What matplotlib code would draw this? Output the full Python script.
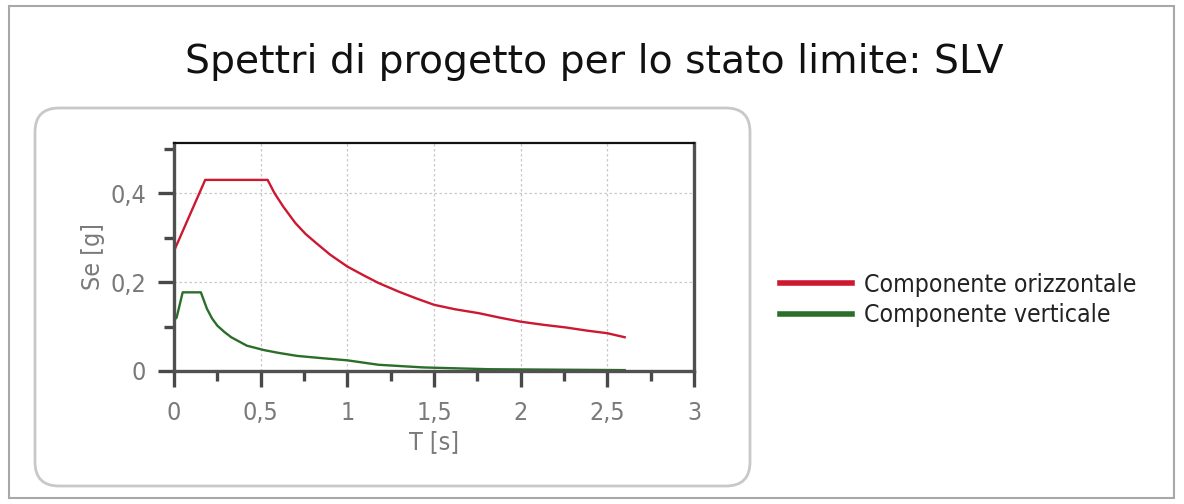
import matplotlib
matplotlib.use("Agg")
import matplotlib.pyplot as plt
from matplotlib.patches import FancyBboxPatch, Rectangle

# spectrum values
t_oriz = [0.0, 0.18, 0.54, 0.58, 0.63, 0.7, 0.76, 0.82, 0.9, 1.0, 1.1, 1.18, 1.3, 1.4,
          1.5, 1.62, 1.76, 1.88, 2.0, 2.13, 2.26, 2.38, 2.5, 2.6]
se_oriz = [0.27, 0.43, 0.43, 0.40, 0.37, 0.333, 0.308, 0.288, 0.262, 0.235, 0.214, 0.198,
           0.178, 0.163, 0.149, 0.139, 0.13, 0.12, 0.111, 0.104, 0.098, 0.091, 0.085, 0.076]
t_vert = [0.0, 0.015, 0.05, 0.155, 0.19, 0.22, 0.25, 0.29, 0.33, 0.42, 0.52, 0.6, 0.71,
          0.85, 1.0, 1.18, 1.44, 1.82, 2.2, 2.6]
se_vert = [0.115, 0.12, 0.177, 0.177, 0.14, 0.118, 0.102, 0.088, 0.076, 0.057, 0.047,
           0.041, 0.034, 0.029, 0.024, 0.014, 0.008, 0.004, 0.003, 0.002]

xticks = [0, 0.5, 1, 1.5, 2, 2.5, 3]
xlabels = ["0", "0,5", "1", "1,5", "2", "2,5", "3"]
yticks = [0, 0.2, 0.4]
ylabels = ["0", "0,2", "0,4"]

W, H = 1184, 504
narrow = dict(family="DejaVu Sans", stretch="condensed")
grey_txt = "#7a7a7a"

fig = plt.figure(figsize=(W / 100, H / 100), dpi=100)

# pixel-space background layer for frames and title
bg = fig.add_axes([0, 0, 1, 1], zorder=0)
bg.set_xlim(0, W)
bg.set_ylim(H, 0)
bg.axis("off")
bg.add_patch(Rectangle((9, 6), 1165, 492, fill=False, ec="#a8a8a8", lw=1.5))
bg.add_patch(FancyBboxPatch((35, 108), 715, 378, boxstyle="round,pad=0,rounding_size=24",
                            fill=False, ec="#c8c8c8", lw=2))
bg.text(594, 62, "Spettri di progetto per lo stato limite: SLV", ha="center", va="center",
        fontsize=28.4, color="#111111")

ax = fig.add_axes([174 / W, 1 - 371 / H, 520 / W, 228 / H], zorder=1)
ax.patch.set_alpha(0)
ax.plot(t_oriz, se_oriz, color="#cc1830", lw=1.7, label="Componente orizzontale")
ax.plot(t_vert, se_vert, color="#2a6e2a", lw=1.7, label="Componente verticale")
ax.set_xlim(0, 3)
ax.set_ylim(0, 0.513)

ax.set_xticks(xticks)
ax.set_xticklabels(xlabels, fontsize=18, color=grey_txt, **narrow)
ax.set_xticks([0.25, 0.75, 1.25, 1.75, 2.25, 2.75], minor=True)
ax.set_yticks(yticks)
ax.set_yticklabels(ylabels, fontsize=18, color=grey_txt, **narrow)
ax.set_yticks([0.1, 0.3, 0.5], minor=True)
ax.tick_params(which="major", direction="out", length=11.5, width=2.4, color="#484848")
ax.tick_params(which="minor", direction="out", length=7.5, width=2.4, color="#484848")
ax.tick_params(axis="x", which="major", pad=10)
ax.tick_params(axis="y", which="major", pad=8.5)
ax.grid(True, which="major", color="#c8c8c8", ls=(0, (2, 2)), lw=0.9)

for side in ("left", "bottom", "right"):
    ax.spines[side].set_color("#505050")
    ax.spines[side].set_linewidth(2.4)
ax.spines["top"].set_color("#111111")
ax.spines["top"].set_linewidth(1.6)

ax.set_xlabel("T [s]", fontsize=18, color=grey_txt, labelpad=4, **narrow)
ax.set_ylabel("Se [g]", fontsize=18, color=grey_txt, labelpad=3.5, **narrow)

leg = ax.legend(loc="center left", bbox_to_anchor=(758 / W, 1 - 300 / H),
                bbox_transform=fig.transFigure, frameon=False,
                prop=dict(size=17.8, **narrow), handlelength=2.9,
                handletextpad=0.49, labelspacing=0.28)
for h in leg.get_lines():
    h.set_linewidth(4)
for t in leg.get_texts():
    t.set_color("#222222")

fig.savefig("out.png", dpi=100)
